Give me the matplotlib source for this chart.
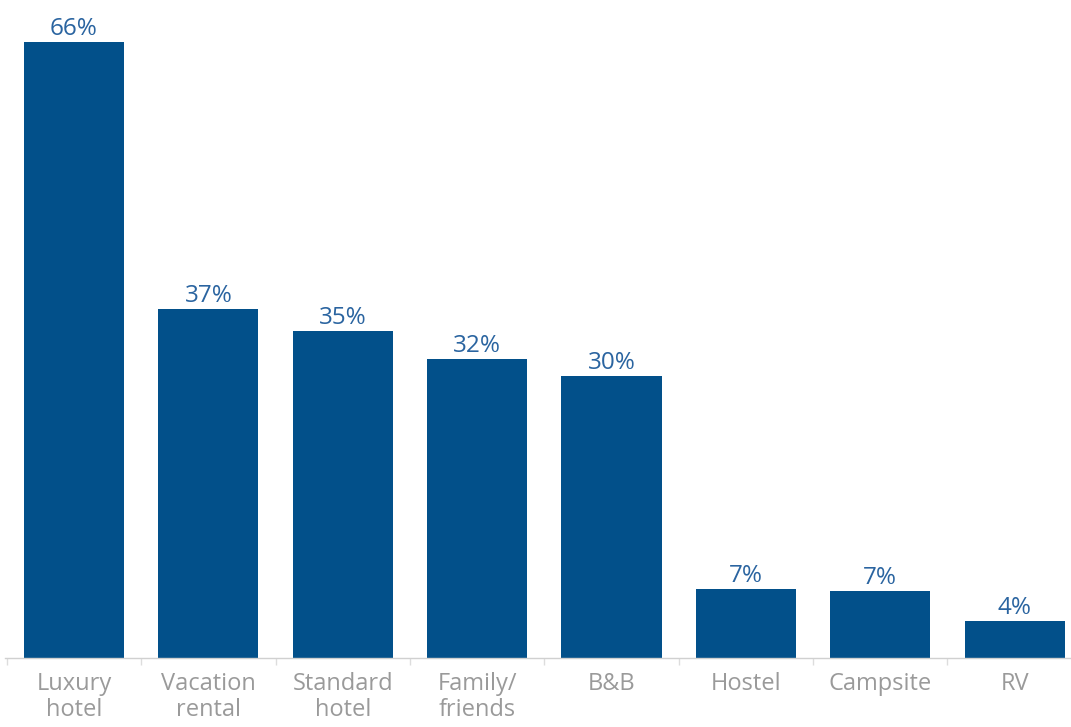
import matplotlib
matplotlib.use("Agg")
import matplotlib.pyplot as plt
import numpy as np

categories = ["Luxury\nhotel", "Vacation\nrental", "Standard\nhotel", "Family/\nfriends",
              "B&B", "Hostel", "Campsite", "RV"]
values = [66, 37.4, 35, 32, 30.2, 7.4, 7.2, 4]
labels = ["66%", "37%", "35%", "32%", "30%", "7%", "7%", "4%"]

BAR = "#02508a"
LABEL = "#2a64a0"
TICK = "#9a9a9a"

fig = plt.figure(figsize=(10.71, 7.27), dpi=100)
ax = fig.add_axes([5/1071, 69/727, 1066/1071, 658/727])

x = np.arange(len(categories))
ax.bar(x, values, width=0.745, color=BAR, zorder=2)
for xi, v, lab in zip(x, values, labels):
    ax.text(xi, v + 0.1, lab, ha="center", va="bottom", fontsize=17.5,
            color=LABEL, family="Open Sans")

ax.set_xlim(-0.514, 7.42)
ax.set_ylim(0, 70.5)
ax.set_yticks([])
for s in ["left", "right", "top"]:
    ax.spines[s].set_visible(False)
ax.spines["bottom"].set_color("#d0d0d0")
ax.spines["bottom"].set_linestyle((0, (1, 1)))
ax.spines["bottom"].set_linewidth(1)

ax.set_xticks(x)
ax.set_xticklabels(categories, fontsize=17, color=TICK, family="Open Sans",
                   linespacing=1.12)
ax.tick_params(axis="x", which="major", length=0, pad=10)
ax.set_xticks(np.arange(len(categories)) - 0.5, minor=True)
ax.tick_params(axis="x", which="minor", length=5, color="#dddddd", width=1)

fig.savefig("out.png", dpi=100)
